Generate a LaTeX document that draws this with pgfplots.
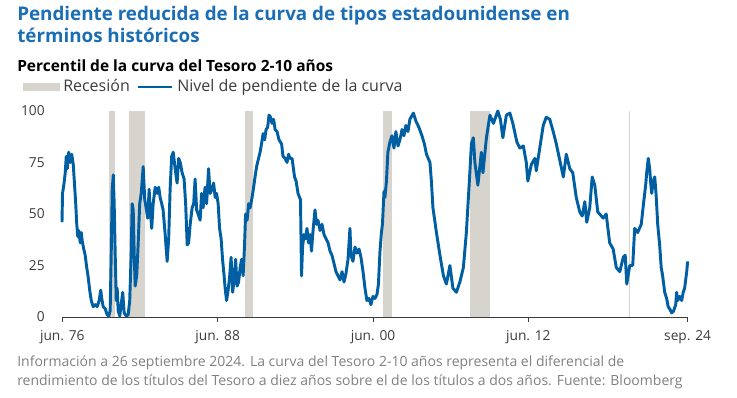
\documentclass[border=0pt]{standalone}
\usepackage{pgfplots}
\pgfplotsset{compat=1.18}
\usepackage{fontspec}
\setmainfont{Open Sans}
\definecolor{titleblue}{HTML}{1B6DB4}
\definecolor{lineblue}{HTML}{005EA2}
\definecolor{recgray}{HTML}{D7D3CD}
\definecolor{txtgray}{HTML}{3C3C3C}
\definecolor{footgray}{HTML}{808080}
\begin{document}
\begin{tikzpicture}
\useasboundingbox (0,0) rectangle (552.75pt,297.75pt);
% titles
\node[anchor=base west,inner sep=0pt,text=titleblue,font=\fontsize{14.1}{16}\selectfont\bfseries] at (12.75pt,282pt) {Pendiente reducida de la curva de tipos estadounidense en};
\node[anchor=base west,inner sep=0pt,text=titleblue,font=\fontsize{14.1}{16}\selectfont\bfseries] at (12.75pt,265.5pt) {términos históricos};
\node[anchor=base west,inner sep=0pt,text=black,font=\fontsize{11.6}{13}\selectfont\bfseries] at (12.75pt,244pt) {Percentil de la curva del Tesoro 2-10 años};
% legend
\fill[recgray] (17.25pt,229.5pt) rectangle (45pt,235.5pt);
\node[anchor=base west,inner sep=0pt,text=txtgray,font=\fontsize{12}{13}\selectfont] at (47.25pt,229pt) {Recesión};
\draw[lineblue,line width=1.6pt] (103.5pt,232.5pt) -- (129pt,232.5pt);
\node[anchor=base west,inner sep=0pt,text=txtgray,font=\fontsize{12}{13}\selectfont] at (132.75pt,229pt) {Nivel de pendiente de la curva};
% footer
\node[anchor=base west,inner sep=0pt,text=footgray,font=\fontsize{10.5}{11}\selectfont] at (12.75pt,23.25pt) {Información a 26 septiembre 2024. La curva del Tesoro 2-10 años representa el diferencial de};
\node[anchor=base west,inner sep=0pt,text=footgray,font=\fontsize{10.5}{11}\selectfont] at (12.75pt,9pt) {rendimiento de los títulos del Tesoro a diez años sobre el de los títulos a dos años. Fuente: Bloomberg};
\begin{axis}[
  at={(46.5pt,60pt)}, anchor=south west,
  scale only axis, width=469.5pt, height=154.5pt,
  xmin=1976.40, xmax=2024.75, ymin=0, ymax=100,
  separate axis lines,
  axis x line*=bottom, axis y line*=left,
  y axis line style={draw=none},
  x axis line style={draw=txtgray, line width=0.6pt},
  xtick={1976.42,1988.42,2000.42,2012.42,2024.72},
  xticklabels={jun. 76,jun. 88,jun. 00,jun. 12,sep. 24},
  ytick={0,25,50,75,100},
  xtick style={draw=txtgray, line width=0.6pt},
  tick align=outside, major tick length=3.5pt,
  ytick style={draw=none},
  ticklabel style={text=txtgray, font=\fontsize{10.3}{12}\selectfont},
  yticklabel style={xshift=-6pt},
  xticklabel style={yshift=-3pt},
  /pgf/number format/assume math mode=true,
  clip=false,
]
% recessions
\addplot[fill=recgray,draw=none] coordinates {(1980.05,100) (1980.51,100)} \closedcycle;
\addplot[fill=recgray,draw=none] coordinates {(1981.54,100) (1982.82,100)} \closedcycle;
\addplot[fill=recgray,draw=none] coordinates {(1990.54,100) (1991.18,100)} \closedcycle;
\addplot[fill=recgray,draw=none] coordinates {(2001.16,100) (2001.86,100)} \closedcycle;
\addplot[fill=recgray,draw=none] coordinates {(2007.95,100) (2009.44,100)} \closedcycle;
\addplot[fill=recgray,draw=none] coordinates {(2020.19,100) (2020.29,100)} \closedcycle;
% curve
\addplot[lineblue, line width=2.2pt, line join=round] coordinates {
(1976.40,46) (1976.44,60) (1976.54,64) (1976.65,70) (1976.73,78) (1976.81,72) (1976.92,80) (1977.04,75) (1977.15,79) (1977.27,74)
(1977.38,63) (1977.46,55) (1977.54,45) (1977.62,39) (1977.69,42) (1977.81,36) (1977.89,41) (1977.96,37) (1978.08,33) (1978.19,30)
(1978.31,24) (1978.43,19) (1978.54,13) (1978.66,8) (1978.81,5) (1978.97,6) (1979.12,5) (1979.27,8) (1979.39,13) (1979.47,9)
(1979.58,5) (1979.74,4) (1979.89,1) (1980.01,0.5) (1980.12,3) (1980.20,30) (1980.28,62) (1980.36,69) (1980.43,55) (1980.51,30)
(1980.59,8) (1980.66,14) (1980.74,3) (1980.86,0.5) (1980.97,6) (1981.09,12) (1981.20,2) (1981.36,0.5) (1981.51,1) (1981.63,8)
(1981.74,30) (1981.82,55) (1981.90,52) (1981.98,30) (1982.05,15) (1982.17,20) (1982.28,35) (1982.40,55) (1982.52,60) (1982.67,73)
(1982.79,57) (1982.90,53) (1983.02,48) (1983.13,62) (1983.21,52) (1983.33,43) (1983.44,55) (1983.60,63) (1983.75,60) (1983.87,63)
(1983.98,58) (1984.10,55) (1984.21,52) (1984.37,40) (1984.52,27) (1984.64,38) (1984.75,62) (1984.87,78) (1984.99,80) (1985.14,72)
(1985.29,65) (1985.41,77) (1985.53,75) (1985.68,70) (1985.83,67) (1985.95,55) (1986.07,35) (1986.18,36) (1986.30,45) (1986.45,53)
(1986.57,55) (1986.68,67) (1986.80,52) (1986.91,50) (1987.07,47) (1987.18,60) (1987.30,53) (1987.45,63) (1987.57,55) (1987.72,72)
(1987.84,60) (1987.99,62) (1988.11,65) (1988.23,58) (1988.34,60) (1988.46,55) (1988.57,43) (1988.69,38) (1988.80,28) (1988.92,20)
(1989.00,14) (1989.11,8) (1989.23,13) (1989.34,19) (1989.46,29) (1989.58,12) (1989.69,18) (1989.81,28) (1989.92,15) (1990.04,17)
(1990.16,24) (1990.27,28) (1990.39,20) (1990.50,35) (1990.58,50) (1990.70,47) (1990.81,55) (1990.93,53) (1991.08,58) (1991.20,63)
(1991.31,68) (1991.43,73) (1991.54,76) (1991.70,80) (1991.81,84) (1991.93,89) (1992.05,86) (1992.16,91) (1992.28,92) (1992.39,98)
(1992.51,97) (1992.62,94) (1992.74,96) (1992.86,91) (1993.01,90) (1993.16,86) (1993.36,84) (1993.47,78) (1993.63,77) (1993.78,75)
(1993.90,79) (1994.01,77) (1994.17,77) (1994.36,68) (1994.48,66) (1994.63,60) (1994.75,58) (1994.82,57) (1994.90,20) (1994.98,34)
(1995.09,40) (1995.21,38) (1995.32,43) (1995.44,36) (1995.56,40) (1995.67,32) (1995.79,42) (1995.94,52) (1996.06,45) (1996.17,47)
(1996.33,42) (1996.48,45) (1996.64,40) (1996.79,38) (1996.95,36) (1997.10,32) (1997.25,30) (1997.41,26) (1997.56,22) (1997.72,20)
(1997.87,18) (1998.03,22) (1998.18,17) (1998.33,21) (1998.49,28) (1998.64,43) (1998.72,30) (1998.87,27) (1999.03,34) (1999.18,31)
(1999.34,33) (1999.49,29) (1999.65,22) (1999.80,14) (1999.95,8) (2000.11,9) (2000.26,6) (2000.42,10) (2000.57,9) (2000.73,11)
(2000.84,16) (2000.96,32) (2001.07,41) (2001.15,45) (2001.27,61) (2001.34,58) (2001.46,66) (2001.57,80) (2001.73,85) (2001.88,88)
(2002.04,82) (2002.19,90) (2002.35,83) (2002.50,86) (2002.66,91) (2002.81,88) (2002.96,93) (2003.12,90) (2003.27,96) (2003.54,99)
(2003.74,95) (2003.97,92) (2004.20,88) (2004.39,84) (2004.55,79) (2004.82,75) (2004.93,66) (2005.05,53) (2005.32,41) (2005.59,30)
(2005.86,20) (2006.09,16) (2006.36,25) (2006.59,14) (2006.86,12) (2007.13,17) (2007.40,24) (2007.63,41) (2007.90,70) (2008.02,84)
(2008.17,87) (2008.29,75) (2008.52,64) (2008.79,80) (2008.91,70) (2009.18,87) (2009.45,98) (2009.72,94) (2010.06,100) (2010.26,96)
(2010.45,87) (2010.72,98) (2010.99,99) (2011.22,94) (2011.53,85) (2011.76,82) (2012.03,83) (2012.26,75) (2012.38,66) (2012.65,74)
(2012.92,77) (2013.03,71) (2013.30,82) (2013.57,93) (2013.80,97) (2014.07,96) (2014.34,90) (2014.58,84) (2014.85,76) (2015.12,68)
(2015.35,79) (2015.62,72) (2015.85,70) (2016.12,58) (2016.39,51) (2016.58,49) (2016.78,56) (2016.93,46) (2017.16,53) (2017.35,68)
(2017.55,64) (2017.78,51) (2018.20,48) (2018.43,50) (2018.70,36) (2018.97,33) (2019.21,24) (2019.48,22) (2019.75,29) (2019.90,30)
(2020.02,16) (2020.25,25) (2020.48,25) (2020.63,43) (2020.86,41) (2021.14,45) (2021.33,56) (2021.48,64) (2021.56,70) (2021.68,77)
(2021.79,72) (2021.87,65) (2021.95,60) (2022.06,66) (2022.18,68) (2022.29,59) (2022.41,45) (2022.56,35) (2022.68,24) (2022.79,20)
(2022.95,12) (2023.10,9) (2023.22,5) (2023.33,4) (2023.49,2) (2023.64,3) (2023.80,6) (2023.87,12) (2023.95,8) (2024.11,10)
(2024.26,8) (2024.38,12) (2024.49,14) (2024.57,18) (2024.65,22) (2024.72,27)
};
\end{axis}
\end{tikzpicture}
\end{document}
